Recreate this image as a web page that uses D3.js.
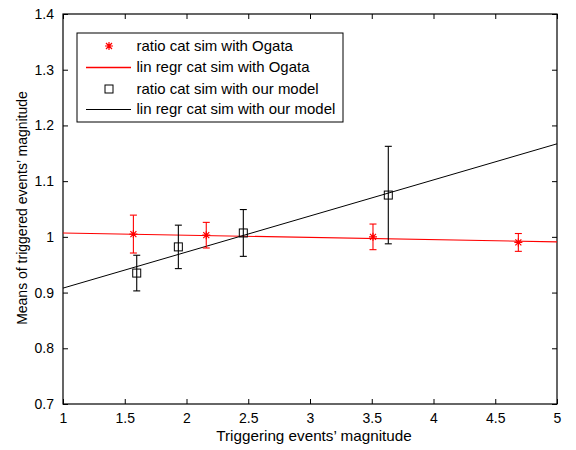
<!DOCTYPE html>
<html><head><meta charset="utf-8">
<script src="https://cdn.jsdelivr.net/npm/d3@7"></script>
<style>body{margin:0;background:#fff}svg{display:block}text{font-family:"Liberation Sans",Arial,sans-serif}</style>
</head><body><svg id="c" width="576" height="450"></svg>
<script>
// Data
const ogataX = [1.57, 2.16, 3.51, 4.687];
const ogataY = [1.005, 1.003, 1.000, 0.990];
const ogataErr = [0.034, 0.023, 0.023, 0.016];
const modelX = [1.597, 1.934, 2.46, 3.634];
const modelY = [0.935, 0.982, 1.007, 1.075];
const modelErr = [0.032, 0.039, 0.042, 0.0875];
const ogataLineX = [1, 5];
const ogataLineY = [1.007, 0.991];
const modelLineX = [1, 5];
const modelLineY = [0.908, 1.167];
const xTicks = [1, 1.5, 2, 2.5, 3, 3.5, 4, 4.5, 5];
const yTicks = [0.7, 0.8, 0.9, 1, 1.1, 1.2, 1.3, 1.4];
const legendLabels = ["ratio cat sim with Ogata", "lin regr cat sim with Ogata", "ratio cat sim with our model", "lin regr cat sim with our model"];

const svg = d3.select("#c");
const L = 63, R = 557, T = 14, B = 404;
const x = d3.scaleLinear().domain([1, 5]).range([L, R]);
const y = d3.scaleLinear().domain([0.7, 1.4]).range([B, T]);
const fmt = d => String(d);

// axes (inward ticks on all sides)
const ax = svg.append("g").attr("transform", `translate(0,${B})`)
  .call(d3.axisBottom(x).tickValues(xTicks).tickSizeInner(-5).tickSizeOuter(0).tickPadding(9).tickFormat(fmt));
const axT = svg.append("g").attr("transform", `translate(0,${T})`)
  .call(d3.axisTop(x).tickValues(xTicks).tickSizeInner(-5).tickSizeOuter(0).tickFormat(""));
const ay = svg.append("g").attr("transform", `translate(${L},0)`)
  .call(d3.axisLeft(y).tickValues(yTicks).tickSizeInner(-5).tickSizeOuter(0).tickPadding(9).tickFormat(fmt));
const ayR = svg.append("g").attr("transform", `translate(${R},0)`)
  .call(d3.axisRight(y).tickValues(yTicks).tickSizeInner(-5).tickSizeOuter(0).tickFormat(""));
[ax, axT, ay, ayR].forEach(g => {
  g.select(".domain").remove();
  g.selectAll("line").attr("stroke", "#000").attr("stroke-width", 1);
  g.selectAll("text").attr("font-size", 14).attr("fill", "#000").attr("font-family", '"Liberation Sans",Arial,sans-serif');
});
svg.append("rect").attr("x", L).attr("y", T).attr("width", R - L).attr("height", B - T)
  .attr("fill", "none").attr("stroke", "#000").attr("stroke-width", 1.2);

// axis labels
svg.append("text").attr("transform", `translate(${(L + R) / 2 + 4},441) scale(1.09,1)`).attr("text-anchor", "middle")
  .attr("font-size", 14).text("Triggering events\u2019 magnitude");
svg.append("text").attr("transform", `translate(27,${(83 + 333) / 2}) rotate(-90)`).attr("text-anchor", "middle")
  .attr("font-size", 14).text("Means of triggered events\u2019 magnitude");

const plot = svg.append("g");
// regression lines
const line = d3.line().x(d => x(d[0])).y(d => y(d[1]));
plot.append("path").datum(d3.zip(ogataLineX, ogataLineY)).attr("d", line).style("stroke", "#f00").attr("fill", "none").attr("stroke-width", 1.1);
plot.append("path").datum(d3.zip(modelLineX, modelLineY)).attr("d", line).style("stroke", "#000").attr("fill", "none").attr("stroke-width", 1);

function errorBars(xs, ys, es, color) {
  const g = plot.append("g").style("stroke", color).attr("stroke-width", 1.1).attr("fill", "none");
  xs.forEach((xv, i) => {
    const cx = x(xv), y0 = y(ys[i] - es[i]), y1 = y(ys[i] + es[i]);
    g.append("line").attr("x1", cx).attr("x2", cx).attr("y1", y0).attr("y2", y1);
    g.append("line").attr("x1", cx - 3.5).attr("x2", cx + 3.5).attr("y1", y0).attr("y2", y0);
    g.append("line").attr("x1", cx - 3.5).attr("x2", cx + 3.5).attr("y1", y1).attr("y2", y1);
  });
}
function star(g, cx, cy, color) {
  const s = 4, d = 3;
  const p = `M${cx - s},${cy}H${cx + s}M${cx},${cy - s}V${cy + s}M${cx - d},${cy - d}L${cx + d},${cy + d}M${cx - d},${cy + d}L${cx + d},${cy - d}`;
  g.append("path").attr("d", p).style("stroke", color).attr("stroke-width", 1.2).attr("fill", "none");
}
function square(g, cx, cy) {
  g.append("rect").attr("x", cx - 4).attr("y", cy - 4).attr("width", 8).attr("height", 8)
    .attr("fill", "none").style("stroke", "#000").attr("stroke-width", 1);
}
errorBars(ogataX, ogataY, ogataErr, "#f00");
errorBars(modelX, modelY, modelErr, "#000");
ogataX.forEach((xv, i) => star(plot, x(xv), y(ogataY[i]), "#f00"));
modelX.forEach((xv, i) => square(plot, x(xv), y(modelY[i])));

// legend
const lg = svg.append("g");
lg.append("rect").attr("x", 77).attr("y", 33).attr("width", 266).attr("height", 89)
  .attr("fill", "#fff").style("stroke", "#000").attr("stroke-width", 1);
const rowY = [46, 67.5, 89, 109.5];
legendLabels.forEach((t, i) => {
  lg.append("text").attr("transform", `translate(136.5,${rowY[i]}) scale(1.07,1)`).attr("dy", "0.35em").attr("font-size", 14).text(t);
});
star(lg, 109, rowY[0], "#f00");
lg.append("line").attr("x1", 86).attr("x2", 131).attr("y1", rowY[1]).attr("y2", rowY[1]).style("stroke", "#f00").attr("stroke-width", 1.6);
square(lg, 109, rowY[2]);
lg.append("line").attr("x1", 86).attr("x2", 131).attr("y1", rowY[3]).attr("y2", rowY[3]).style("stroke", "#000").attr("stroke-width", 1);
</script></body></html>
